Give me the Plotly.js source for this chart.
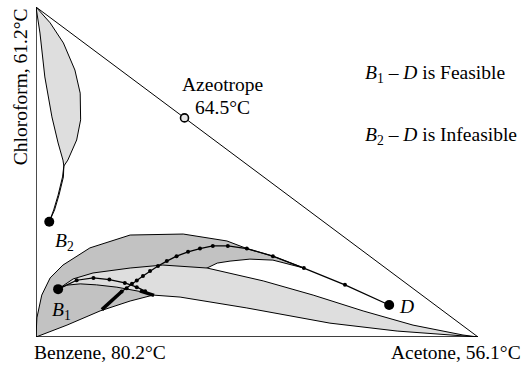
<!DOCTYPE html>
<html>
<head>
<meta charset="utf-8">
<script src="https://cdn.plot.ly/plotly-3.0.1.min.js"></script>
<style>html,body{margin:0;padding:0;background:#fff;}#chart{width:525px;height:369px;}</style>
</head>
<body>
<div id="chart"></div>
<script>
// Compositions: x = acetone mole fraction, y = chloroform mole fraction (benzene = remainder)
const triangleA = [0, 0, 1];
const triangleC = [1, 0, 0];
const hypotenuseA = [0, 1];
const hypotenuseC = [1, 0];

// Upper lens (profiles from B2)
const lensLeftA = [0.000, 0.009, 0.020, 0.036, 0.050, 0.061, 0.063];
const lensLeftC = [1.000, 0.921, 0.788, 0.667, 0.588, 0.536, 0.518];
const lensRightA = [0.063, 0.072, 0.092, 0.101, 0.100, 0.088, 0.062, 0.032, 0.000];
const lensRightC = [0.518, 0.536, 0.597, 0.658, 0.739, 0.809, 0.891, 0.952, 1.000];
const tail1A = [0.063, 0.060, 0.050, 0.040, 0.030];
const tail1C = [0.518, 0.485, 0.430, 0.385, 0.349];
const tail2A = [0.063, 0.062, 0.052, 0.042, 0.030];
const tail2C = [0.518, 0.485, 0.430, 0.385, 0.349];

// Dark region
const darkOuterA = [0.000, 0.002, 0.013, 0.032, 0.061, 0.122, 0.213, 0.333, 0.432, 0.477, 0.536, 0.606];
const darkOuterC = [0.000, 0.058, 0.127, 0.179, 0.218, 0.270, 0.309, 0.312, 0.291, 0.268, 0.245, 0.209];
const darkInnerA = [0.606, 0.536, 0.484, 0.439, 0.410, 0.387];
const darkInnerC = [0.209, 0.233, 0.236, 0.230, 0.224, 0.209];
const darkBaseA = [0.265, 0.213, 0.145, 0.070, 0.000];
const darkBaseC = [0.127, 0.109, 0.079, 0.036, 0.000];

// Light region
const lightUpperA = [0.050, 0.084, 0.129, 0.213, 0.287, 0.387, 0.514, 0.627, 0.740, 0.853, 0.966, 1.000];
const lightUpperC = [0.145, 0.176, 0.194, 0.209, 0.218, 0.209, 0.170, 0.127, 0.079, 0.036, 0.006, 0.000];
const lightLowerA = [1.000, 0.817, 0.665, 0.477, 0.326, 0.265, 0.235, 0.183, 0.137, 0.100, 0.069, 0.050];
const lightLowerC = [0.000, 0.018, 0.042, 0.088, 0.121, 0.127, 0.138, 0.151, 0.158, 0.161, 0.157, 0.145];

// Profile from B1
const b1ProfileA = [0.050, 0.092, 0.130, 0.166, 0.201, 0.228, 0.247];
const b1ProfileC = [0.145, 0.172, 0.179, 0.174, 0.164, 0.151, 0.139];
const b1BoldA = [0.235, 0.267];
const b1BoldC = [0.140, 0.126];

// Profile from D
const dBoldA = [0.149, 0.194];
const dBoldC = [0.083, 0.138];
const dProfileA = [0.194, 0.205, 0.217, 0.228, 0.242, 0.258, 0.276, 0.296, 0.318, 0.344, 0.371, 0.400, 0.434, 0.477, 0.536, 0.606, 0.699, 0.799];
const dProfileC = [0.138, 0.148, 0.161, 0.171, 0.185, 0.200, 0.215, 0.230, 0.245, 0.258, 0.268, 0.276, 0.276, 0.268, 0.245, 0.209, 0.158, 0.097];

// Key points
const pointNames = ['B1', 'B2', 'D'];
const pointA = [0.050, 0.030, 0.799];
const pointC = [0.145, 0.349, 0.097];
const azeotropeA = [0.336];
const azeotropeC = [0.664];

const DARK = '#c2c2c2', LIGHT = '#dedede';
const serif = 'Liberation Serif, Times New Roman, serif';

const traces = [];
traces.push({
  x: darkOuterA.concat(darkInnerA, darkBaseA),
  y: darkOuterC.concat(darkInnerC, darkBaseC),
  mode: 'lines', fill: 'toself', fillcolor: DARK,
  line: {color: '#000', width: 1}, hoverinfo: 'skip'
});
traces.push({
  x: lightUpperA.concat(lightLowerA),
  y: lightUpperC.concat(lightLowerC),
  mode: 'lines', fill: 'toself', fillcolor: LIGHT,
  line: {color: '#000', width: 1}, hoverinfo: 'skip'
});
traces.push({
  x: lensLeftA.concat(lensRightA),
  y: lensLeftC.concat(lensRightC),
  mode: 'lines', fill: 'toself', fillcolor: LIGHT,
  line: {color: '#000', width: 1}, hoverinfo: 'skip'
});
traces.push({x: tail1A, y: tail1C, mode: 'lines', line: {color: '#000', width: 1}});
traces.push({x: tail2A, y: tail2C, mode: 'lines', line: {color: '#000', width: 1}});
traces.push({x: triangleA, y: triangleC, mode: 'lines', line: {color: '#000', width: 1.4}, cliponaxis: false});
traces.push({x: hypotenuseA, y: hypotenuseC, mode: 'lines', line: {color: '#000', width: 1}, cliponaxis: false});
traces.push({x: dProfileA, y: dProfileC, mode: 'lines+markers', line: {color: '#000', width: 1.3},
  marker: {color: '#000', size: 4}});
traces.push({x: dBoldA, y: dBoldC, mode: 'lines', line: {color: '#000', width: 3.5}});
traces.push({x: b1ProfileA, y: b1ProfileC, mode: 'lines+markers', line: {color: '#000', width: 1.2},
  marker: {color: '#000', size: 4}});
traces.push({x: b1BoldA, y: b1BoldC, mode: 'lines', line: {color: '#000', width: 3.5}});
traces.push({x: pointA, y: pointC, text: pointNames, mode: 'markers', marker: {color: '#000', size: 10}, cliponaxis: false});
traces.push({x: azeotropeA, y: azeotropeC, mode: 'markers',
  marker: {color: '#e6e6e6', size: 8, line: {color: '#000', width: 1.6}}, cliponaxis: false});

const ann = (x, y, text, extra) => Object.assign({
  x: x, y: y, xref: 'x', yref: 'y', text: text, showarrow: false,
  xanchor: 'center', yanchor: 'middle',
  font: {family: serif, size: 19.5, color: '#000'}
}, extra || {});

const layout = {
  width: 525, height: 369,
  margin: {l: 36, r: 47, t: 7, b: 32, pad: 0},
  paper_bgcolor: '#fff', plot_bgcolor: '#fff',
  showlegend: false,
  xaxis: {range: [0, 1], visible: false, fixedrange: true},
  yaxis: {range: [0, 1], visible: false, fixedrange: true},
  annotations: [
    ann(0.145, -0.048, 'Benzene, 80.2°C', {xref: 'paper', yref: 'paper'}),
    ann(0.950, -0.048, 'Acetone, 56.1°C', {xref: 'paper', yref: 'paper'}),
    ann(-0.036, 0.757, 'Chloroform, 61.2°C', {xref: 'paper', yref: 'paper', textangle: -90}),
    ann(0.421, 0.764, 'Azeotrope'),
    ann(0.421, 0.694, '64.5°C'),
    ann(0.740, 0.797, '<i>B</i><sub>1</sub> – <i>D</i> is Feasible', {xanchor: 'left'}),
    ann(0.740, 0.609, '<i>B</i><sub>2</sub> – <i>D</i> is Infeasible', {xanchor: 'left'}),
    ann(0.038, 0.288, '<i>B</i><sub>2</sub>', {xanchor: 'left'}),
    ann(0.032, 0.079, '<i>B</i><sub>1</sub>', {xanchor: 'left'}),
    ann(0.817, 0.091, '<i>D</i>', {xanchor: 'left'})
  ]
};

Plotly.newPlot('chart', traces, layout, {staticPlot: true, displayModeBar: false});
</script>
</body>
</html>
